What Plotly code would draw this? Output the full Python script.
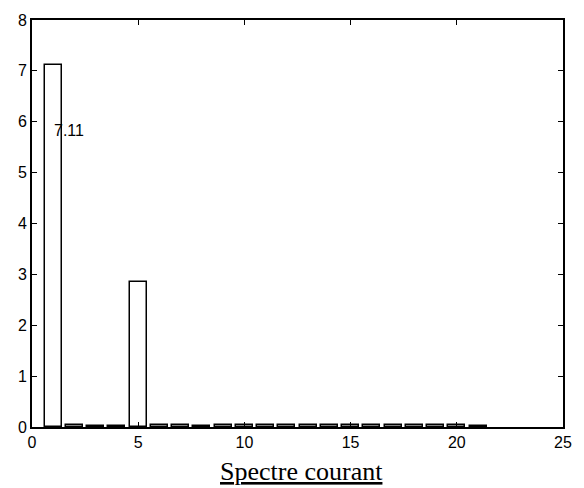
import plotly.graph_objects as go

harmonics = list(range(1, 22))
amplitudes = [7.11, 0.03, 0.02, 0.02, 2.85, 0.03, 0.03, 0.02, 0.03, 0.03,
              0.03, 0.03, 0.03, 0.03, 0.03, 0.03, 0.03, 0.03, 0.03, 0.03, 0.02]
x_ticks = [0, 5, 10, 15, 20, 25]
y_ticks = [0, 1, 2, 3, 4, 5, 6, 7, 8]
label_text = "7.11"
title_text = "Spectre courant"

fig = go.Figure()
fig.add_trace(go.Bar(
    x=harmonics, y=amplitudes, width=0.8,
    marker=dict(color="white", line=dict(color="black", width=1.5)),
    showlegend=False,
))

fig.add_annotation(x=0.93, y=5.82, xref="x", yref="y", text=label_text,
                   showarrow=False, xanchor="left", yanchor="middle",
                   font=dict(family="Liberation Sans", size=16, color="black"))
fig.add_annotation(x=0.507, y=-0.07, xref="paper", yref="paper",
                   text="<u>" + title_text + "</u>",
                   showarrow=False, xanchor="center", yanchor="top",
                   font=dict(family="Liberation Serif", size=26, color="black"))

axis_common = dict(showline=True, linecolor="black", linewidth=1.6, mirror="ticks",
                   ticks="inside", ticklen=5, tickwidth=1.4, tickcolor="black",
                   showgrid=False, zeroline=False,
                   tickfont=dict(family="Liberation Sans", size=16, color="black"))

fig.update_xaxes(range=[0, 25], tickvals=x_ticks, **axis_common)
fig.update_yaxes(range=[0, 8], tickvals=y_ticks, **axis_common)

fig.update_layout(
    width=584, height=488,
    margin=dict(l=32, r=16, t=15, b=61),
    paper_bgcolor="white", plot_bgcolor="white",
    bargap=0,
)
fig.write_html("out.html")
